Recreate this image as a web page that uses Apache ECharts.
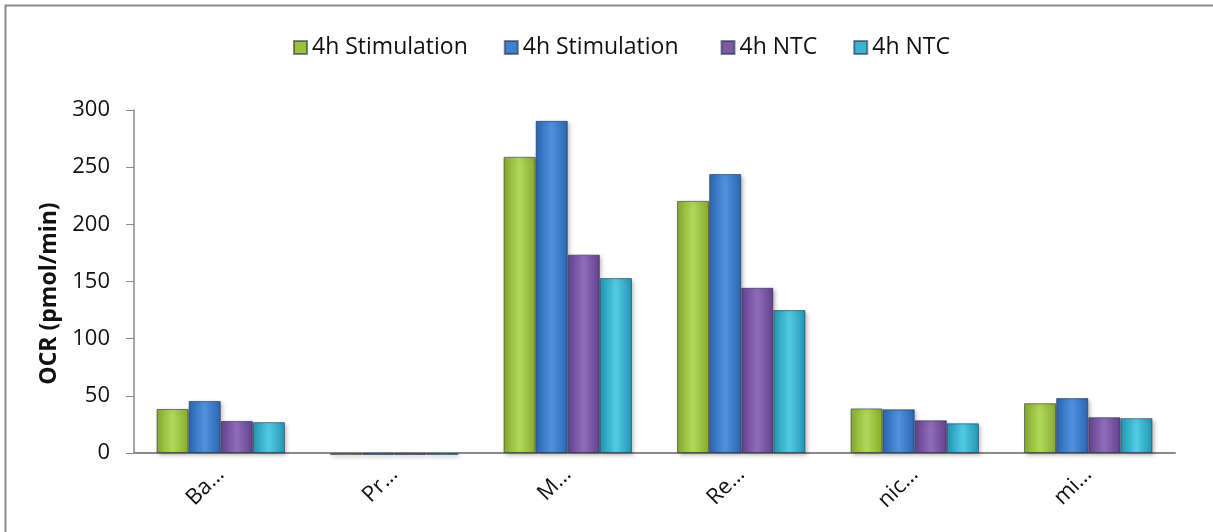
<!DOCTYPE html>
<html>
<head>
<meta charset="utf-8">
<script src="https://cdn.jsdelivr.net/npm/echarts@6/dist/echarts.min.js"></script>
<style>html,body{margin:0;padding:0;background:#fff;}#c{width:1213px;height:532px;}</style>
</head>
<body>
<div id="c"></div>
<script>
const categories = ['Ba…', 'Pr…', 'M…', 'Re…', 'nic…', 'mi…'];
const seriesNames = ['4h Stimulation', '4h Stimulation ', '4h NTC', '4h NTC '];
const stim1 = [38.5, -1.8, 259, 220.5, 39, 43.5];
const stim2 = [45.5, -1.8, 290.5, 244, 38.2, 48];
const ntc1 = [28, -1.8, 173.5, 144.5, 28.6, 31.3];
const ntc2 = [27, -1.8, 153, 125, 26, 30.5];
const yTicks = [0, 50, 100, 150, 200, 250, 300];

const colors = [
  ['#86ab2c', '#b3d75a', '#86ab2c'],
  ['#2b66b0', '#4f92e0', '#2b66b0'],
  ['#63418f', '#8f6dbb', '#63418f'],
  ['#2196b4', '#52cbe4', '#2196b4']
];
const legendColors = ['#9bc23f', '#3f80cf', '#7d5aa8', '#3ab4d0'];
function grad(c) {
  return new echarts.graphic.LinearGradient(0, 0, 1, 0, [
    {offset: 0, color: c[0]}, {offset: 0.5, color: c[1]}, {offset: 1, color: c[2]}
  ]);
}
const dataSets = [stim1, stim2, ntc1, ntc2];
const chart = echarts.init(document.getElementById('c'));
chart.setOption({
  animation: false,
  backgroundColor: '#fff',
  graphic: [{
    type: 'rect', left: 3, top: 3, silent: true,
    shape: {width: 1400, height: 700},
    style: {fill: 'none', stroke: '#8a8a8a', lineWidth: 2}
  }],
  legend: {
    top: 31, left: 288,
    itemWidth: 13, itemHeight: 13, itemGap: 36,
    textStyle: {fontFamily: 'Open Sans', fontSize: 23, color: '#111'},
    data: seriesNames.map((n, i) => ({name: n, icon: 'rect', itemStyle: {color: legendColors[i]}}))
  },
  grid: {left: 134, right: 38, top: 110, bottom: 79},
  xAxis: {
    type: 'category', data: categories,
    axisLine: {lineStyle: {color: '#8a8a8a', width: 2}},
    axisTick: {show: false},
    axisLabel: {rotate: 45, fontFamily: 'Open Sans', fontSize: 22, color: '#111', margin: 18}
  },
  yAxis: {
    type: 'value', min: 0, max: 300, interval: 50,
    name: 'OCR (pmol/min)', nameLocation: 'middle', nameGap: 72,
    nameTextStyle: {fontFamily: 'Open Sans', fontSize: 23, fontWeight: 'bold', color: '#111', padding: [0, 0, 0, -24]},
    axisLine: {show: true, lineStyle: {color: '#8a8a8a', width: 1.5}},
    axisTick: {show: true, length: 8, lineStyle: {color: '#8a8a8a'}},
    axisLabel: {fontFamily: 'Open Sans', fontSize: 22, color: '#111', margin: 24},
    splitLine: {show: false}
  },
  series: dataSets.map((d, i) => ({
    name: seriesNames[i], type: 'bar', data: d, clip: false,
    barGap: '0%', barCategoryGap: '26%',
    itemStyle: {color: grad(colors[i]), borderColor: 'rgba(30,40,60,0.55)', borderWidth: 1,
      shadowColor: 'rgba(0,0,0,0.25)', shadowBlur: 4, shadowOffsetX: 2, shadowOffsetY: 2}
  }))
});
</script>
</body>
</html>
